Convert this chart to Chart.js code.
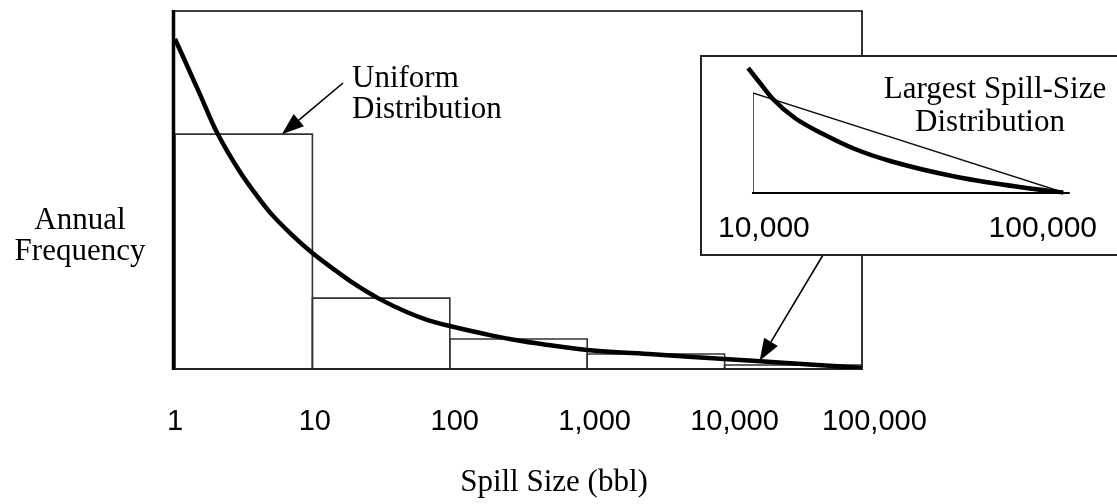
<!DOCTYPE html>
<html>
<head>
<meta charset="utf-8">
<script src="https://cdn.jsdelivr.net/npm/chart.js@4/dist/chart.umd.min.js"></script>
<style>
  html, body { margin: 0; padding: 0; background: #fff; }
  #wrap { position: relative; width: 1117px; height: 504px; overflow: hidden; }
  #mainChart { position: absolute; left: 0; top: 0; }
  #insetChart { position: absolute; left: 700px; top: 55px; background: #fff; }
</style>
</head>
<body>
<div id="wrap">
  <canvas id="mainChart" width="1117" height="504"></canvas>
  <canvas id="insetChart" width="418" height="201"></canvas>
</div>
<script>
// spill size bins (bbl) and the flat "uniform" frequency over each decade
const binEdges = [1, 10, 100, 1000, 10000, 100000];
const uniformHeights = [65.6, 19.8, 8.4, 4.2, 1.1];

// annual frequency curve vs spill size
const spillSizes = [1, 1.5, 2, 3, 4, 5, 7, 10, 15, 20, 30, 50, 70, 100, 200, 300, 500, 1000, 3000, 10000, 30000, 100000];
const frequencies = [92.2, 77.2, 66.4, 54.8, 48.1, 43.4, 37.7, 32.4, 27.3, 23.9, 19.8, 15.7, 13.6, 12.0, 9.4, 8.1, 6.8, 5.3, 4.1, 2.8, 1.6, 0.3];

const tickValues = [1, 10, 100, 1000, 10000, 100000];
const tickLabels = ['1', '10', '100', '1,000', '10,000', '100,000'];

// largest spill-size inset (10,000 - 100,000 bbl)
const insetSizes = [8600, 12000, 15700, 22000, 30100, 39200, 49300, 68500, 87400, 98900];
const insetCurve = [125, 110, 94, 75, 59, 44, 32, 16, 5.5, 0.5];
const triangleSizes = [10000, 10000, 99500];
const triangleHeights = [0, 100, 0];
const insetTicks = [10000, 100000];
const insetTickLabels = ['10,000', '100,000'];

const SERIF = '31px "Liberation Serif", "Times New Roman", serif';
const SANS = '29px "Liberation Sans", Arial, sans-serif';

function arrow(ctx, x0, y0, x1, y1, head) {
  const a = Math.atan2(y1 - y0, x1 - x0);
  const bx = x1 - head * Math.cos(a), by = y1 - head * Math.sin(a);
  ctx.save();
  ctx.strokeStyle = '#000'; ctx.fillStyle = '#000'; ctx.lineWidth = 1.6;
  ctx.beginPath(); ctx.moveTo(x0, y0); ctx.lineTo(bx, by); ctx.stroke();
  ctx.beginPath();
  ctx.moveTo(x1, y1);
  ctx.lineTo(bx + 8 * Math.sin(a), by - 8 * Math.cos(a));
  ctx.lineTo(bx - 8 * Math.sin(a), by + 8 * Math.cos(a));
  ctx.closePath(); ctx.fill();
  ctx.restore();
}

// box data for each uniform bin
const binSets = uniformHeights.map((h, i) => ({
  data: [
    {x: binEdges[i], y: 0}, {x: binEdges[i], y: h},
    {x: binEdges[i + 1], y: h}, {x: binEdges[i + 1], y: 0}
  ],
  borderColor: '#333', borderWidth: 1.6, pointRadius: 0, tension: 0, fill: false
}));

const mainDecor = {
  id: 'mainDecor',
  beforeDatasetsDraw(chart) {
    const ctx = chart.ctx, a = chart.chartArea;
    ctx.save();
    ctx.strokeStyle = '#000';
    ctx.lineWidth = 1.6;
    ctx.beginPath();
    ctx.moveTo(173, a.top); ctx.lineTo(a.right, a.top); ctx.lineTo(a.right, a.bottom + 1);
    ctx.stroke();
    ctx.strokeStyle = '#222';
    ctx.lineWidth = 2;
    ctx.beginPath(); ctx.moveTo(173, a.bottom); ctx.lineTo(a.right, a.bottom); ctx.stroke();
    ctx.restore();
  },
  afterDatasetsDraw(chart) {
    const ctx = chart.ctx, a = chart.chartArea;
    const xs = chart.scales.x, ys = chart.scales.y;
    ctx.save();
    // heavy left axis
    ctx.strokeStyle = '#000'; ctx.lineWidth = 3.5;
    ctx.beginPath(); ctx.moveTo(173.5, a.top - 1); ctx.lineTo(173.5, a.bottom + 1); ctx.stroke();

    // tick labels
    ctx.fillStyle = '#000';
    ctx.font = SANS;
    ctx.textAlign = 'center';
    ctx.textBaseline = 'alphabetic';
    tickValues.forEach((v, i) => {
      const px = xs.getPixelForValue(v);
      ctx.fillText(tickLabels[i], a.left + (px - a.left) * 1.018, 430);
    });

    // axis titles
    ctx.font = SERIF;
    ctx.fillText('Spill Size (bbl)', 554, 491);
    ctx.fillText('Annual', 80, 229);
    ctx.fillText('Frequency', 80, 260);

    ctx.textAlign = 'left';
    ctx.fillText('Uniform', 352, 87);
    ctx.fillText('Distribution', 352, 118);
    ctx.restore();

    arrow(ctx, 343, 83, xs.getPixelForValue(6), ys.getPixelForValue(uniformHeights[0]), 22);
    arrow(ctx, 823, 255, xs.getPixelForValue(18000), ys.getPixelForValue(2.3), 22);
  }
};

new Chart(document.getElementById('mainChart'), {
  type: 'line',
  data: {
    datasets: [
      {
        data: spillSizes.map((s, i) => ({x: s, y: frequencies[i]})),
        borderColor: '#000', borderWidth: 4.5, pointRadius: 0,
        cubicInterpolationMode: 'monotone', fill: false, borderCapStyle: 'butt'
      },
      ...binSets
    ]
  },
  options: {
    responsive: false,
    animation: false,
    events: [],
    layout: {padding: {left: 175, right: 255, top: 11, bottom: 135}},
    plugins: {legend: {display: false}, tooltip: {enabled: false}},
    scales: {
      x: {type: 'logarithmic', min: 1, max: 100000, display: false},
      y: {type: 'linear', min: 0, max: 100, display: false}
    }
  },
  plugins: [mainDecor]
});

const insetDecor = {
  id: 'insetDecor',
  beforeDatasetsDraw(chart) {
    const ctx = chart.ctx, a = chart.chartArea;
    const xs = chart.scales.x;
    ctx.save();
    ctx.strokeStyle = '#000'; ctx.lineWidth = 2;
    ctx.beginPath();
    ctx.moveTo(xs.getPixelForValue(9700), a.bottom);
    ctx.lineTo(xs.getPixelForValue(100800), a.bottom);
    ctx.stroke();
    ctx.restore();
  },
  afterDatasetsDraw(chart) {
    const ctx = chart.ctx, a = chart.chartArea;
    const xs = chart.scales.x;
    ctx.save();
    // frame (right side runs off the page)
    ctx.strokeStyle = '#222'; ctx.lineWidth = 2;
    ctx.beginPath();
    ctx.moveTo(chart.width + 2, 1); ctx.lineTo(1, 1); ctx.lineTo(1, 200); ctx.lineTo(chart.width + 2, 200);
    ctx.stroke();

    ctx.fillStyle = '#000';
    ctx.font = '30px "Liberation Sans", Arial, sans-serif';
    ctx.textBaseline = 'alphabetic';
    ctx.textAlign = 'left';
    ctx.fillText(insetTickLabels[0], xs.getPixelForValue(insetTicks[0]) - 35, 182);
    ctx.textAlign = 'right';
    ctx.fillText(insetTickLabels[1], xs.getPixelForValue(insetTicks[1]) + 30, 182);

    ctx.font = SERIF;
    ctx.textAlign = 'center';
    ctx.fillText('Largest Spill-Size', 295, 43);
    ctx.fillText('Distribution', 290, 76);
    ctx.restore();
  }
};

new Chart(document.getElementById('insetChart'), {
  type: 'line',
  data: {
    datasets: [
      {
        data: insetSizes.map((s, i) => ({x: s, y: insetCurve[i]})),
        borderColor: '#000', borderWidth: 4.5, pointRadius: 0,
        cubicInterpolationMode: 'monotone', fill: false, clip: false
      },
      {
        data: triangleSizes.map((s, i) => ({x: s, y: triangleHeights[i]})),
        borderColor: '#111', borderWidth: 1.4, pointRadius: 0, tension: 0, fill: false
      }
    ]
  },
  options: {
    responsive: false,
    animation: false,
    events: [],
    layout: {padding: {left: 53, right: 51, top: 8, bottom: 63}},
    plugins: {legend: {display: false}, tooltip: {enabled: false}},
    scales: {
      x: {type: 'linear', min: 10000, max: 100000, display: false},
      y: {type: 'linear', min: 0, max: 130, display: false}
    }
  },
  plugins: [insetDecor]
});
</script>
</body>
</html>
